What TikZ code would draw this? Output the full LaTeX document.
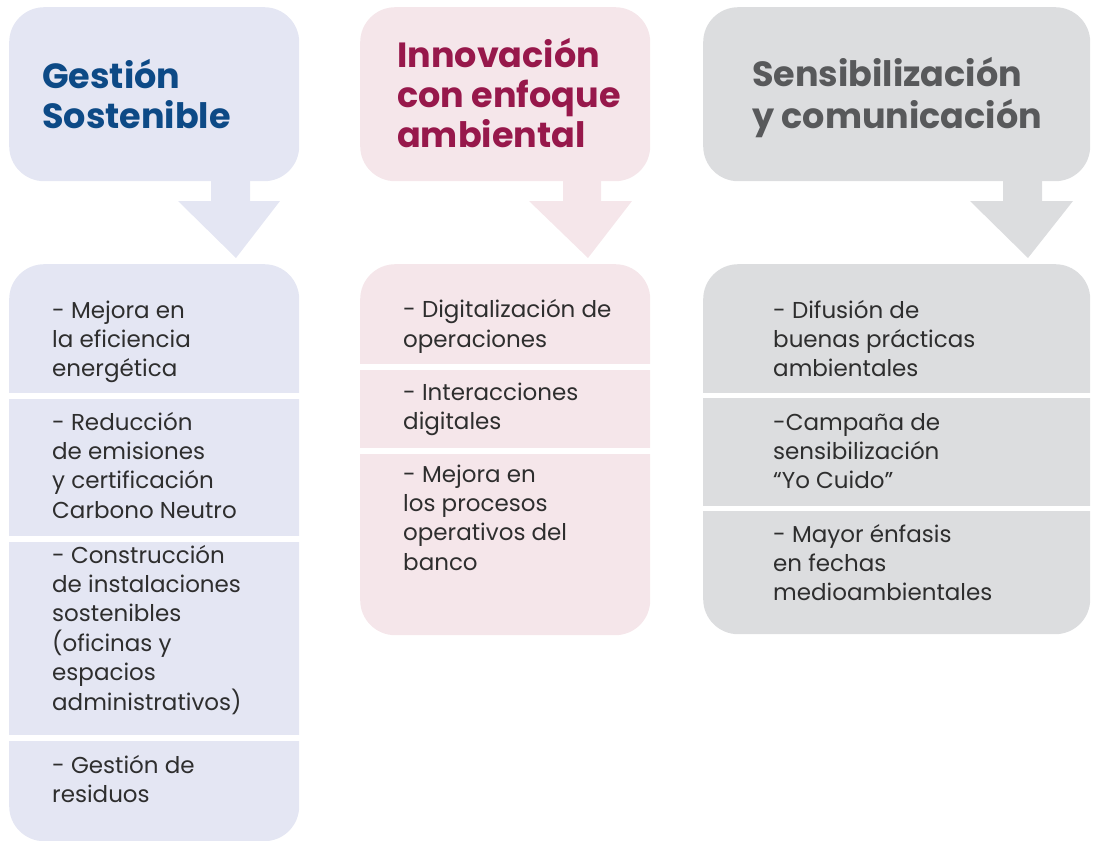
\documentclass[tikz,border=0pt]{standalone}
\usepackage{fontspec}
\setmainfont{Poppins}
\definecolor{fillA}{HTML}{E4E6F3}
\definecolor{fillB}{HTML}{F5E6EA}
\definecolor{fillC}{HTML}{DCDDDF}
\definecolor{titleA}{HTML}{0D4A86}
\definecolor{titleB}{HTML}{97184B}
\definecolor{titleC}{HTML}{58595B}
\definecolor{bodytxt}{HTML}{2E2E2E}
\tikzset{
  headbox/.style={rectangle, rounded corners=35pt, inner sep=0pt, anchor=north west},
  titletxt/.style={anchor=base west, align=left, inner sep=0pt, font=\fontsize{35}{40}\selectfont\bfseries},
  bodytext/.style={anchor=base west, align=left, inner sep=0pt, text=bodytxt, font=\fontsize{23}{29.4}\selectfont},
  gap/.style={fill=white, draw=none},
}
\begin{document}
\begin{tikzpicture}[x=1pt,y=-1pt]
\useasboundingbox (0,0) rectangle (1096,841);
% note: base anchor of a multi-line node = baseline of its last line
% ---------- column 1 ----------
\node[headbox, fill=fillA, minimum width=290pt, minimum height=174pt] (t1) at (9,7) {};
\node[titletxt, text=titleA] (h1) at (42,128) {Gestión\\Sostenible};
\fill[fillA] (211,176) -- (250,176) -- (250,201) -- (280,201) -- (236,258) -- (178,201) -- (211,201) -- cycle;
\node[headbox, fill=fillA, minimum width=290pt, minimum height=577pt] (b1) at (9,264) {};
\fill[gap] (5,393) rectangle (303,399);
\fill[gap] (5,536) rectangle (303,542);
\fill[gap] (5,735) rectangle (303,741);
\node[bodytext] (a1) at (52,376.8) {- Mejora en\\la eficiencia\\energética};
\node[bodytext] (a2) at (52,518.2) {- Reducción\\de emisiones\\y certificación\\Carbono Neutro};
\node[bodytext] (a3) at (52,710) {- Construcción\\de instalaciones\\sostenibles\\(oficinas y\\espacios\\administrativos)};
\node[bodytext] (a4) at (52,802.4) {- Gestión de\\residuos};
% ---------- column 2 ----------
\node[headbox, fill=fillB, minimum width=290pt, minimum height=174pt] (t2) at (360,7) {};
\node[titletxt, text=titleB] (h2) at (397,147) {Innovación\\con enfoque\\ambiental};
\fill[fillB] (563,176) -- (601,176) -- (601,201) -- (632,201) -- (588,258) -- (529,201) -- (563,201) -- cycle;
\node[headbox, fill=fillB, minimum width=290pt, minimum height=371pt] (b2) at (360,264) {};
\fill[gap] (356,364) rectangle (654,370);
\fill[gap] (356,448) rectangle (654,454);
\node[bodytext] (c1) at (403,347) {- Digitalización de\\operaciones};
\node[bodytext] (c2) at (403,429.4) {- Interacciones\\digitales};
\node[bodytext] (c3) at (403,570.2) {- Mejora en\\los procesos\\operativos del\\banco};
% ---------- column 3 ----------
\node[headbox, fill=fillC, minimum width=387pt, minimum height=174pt] (t3) at (703,7) {};
\node[titletxt, text=titleC, font=\fontsize{35}{42}\selectfont\bfseries] (h3) at (752,128) {Sensibilización\\y comunicación};
\fill[fillC] (1003,176) -- (1042,176) -- (1042,201) -- (1073,201) -- (1028,258) -- (970,201) -- (1003,201) -- cycle;
\node[headbox, fill=fillC, minimum width=387pt, minimum height=370pt] (b3) at (703,264) {};
\fill[gap] (699,393) rectangle (1094,398);
\fill[gap] (699,506) rectangle (1094,511);
\node[bodytext] (d1) at (773,376.8) {- Difusión de\\buenas prácticas\\ambientales};
\node[bodytext] (d2) at (773,488.8) {-Campaña de\\sensibilización\\“Yo Cuido”};
\node[bodytext] (d3) at (773,600.8) {- Mayor énfasis\\en fechas\\medioambientales};
\end{tikzpicture}
\end{document}
